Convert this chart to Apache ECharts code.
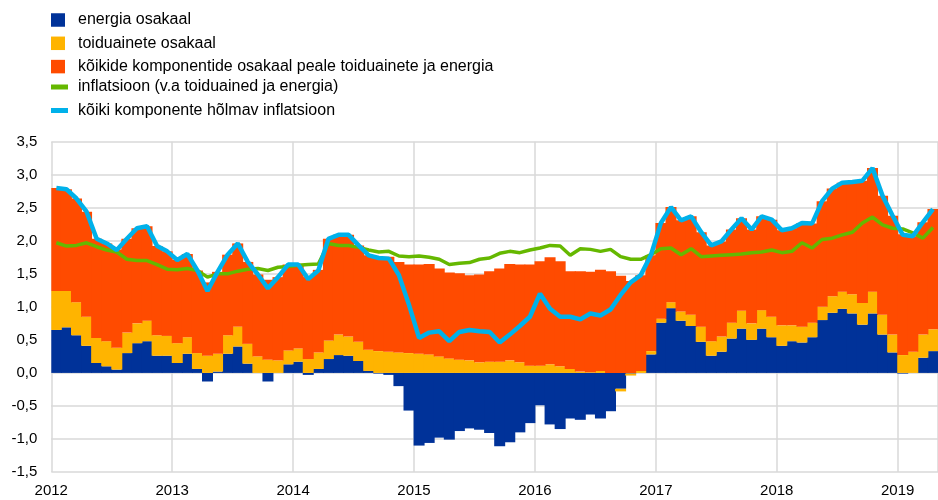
<!DOCTYPE html>
<html>
<head>
<meta charset="utf-8">
<script src="https://cdn.jsdelivr.net/npm/echarts@6/dist/echarts.min.js"></script>
<style>
  html, body { margin: 0; padding: 0; background: #fff; }
  #chart { width: 938px; height: 500px; }
</style>
</head>
<body>
<div id="chart"></div>
<script>
// kuised andmed, jaanuar 2012 - aprill 2019
const startYear = 2012;
const monthCount = 88;

const seriesNames = [
  'energia osakaal',
  'toiduainete osakaal',
  'kõikide komponentide osakaal peale toiduainete ja energia',
  'inflatsioon (v.a toiduained ja energia)',
  'kõiki komponente hõlmav inflatsioon'
];

const energy = [
  0.65, 0.69, 0.57, 0.41, 0.15, 0.10, 0.05, 0.30, 0.45, 0.48,
  0.26, 0.26, 0.15, 0.29, 0.06, -0.13, 0.02, 0.29, 0.40, 0.14,
  0.00, -0.13, 0.00, 0.13, 0.17, -0.03, 0.06, 0.21, 0.27, 0.26,
  0.18, 0.03, -0.01, -0.03, -0.20, -0.57, -1.10, -1.06, -0.98, -1.01,
  -0.88, -0.84, -0.86, -0.91, -1.11, -1.05, -0.90, -0.76, -0.49, -0.78,
  -0.85, -0.69, -0.71, -0.63, -0.69, -0.58, -0.24, -0.01, 0.00, 0.28,
  0.76, 0.98, 0.79, 0.71, 0.47, 0.26, 0.32, 0.52, 0.67, 0.50,
  0.67, 0.54, 0.41, 0.48, 0.46, 0.54, 0.80, 0.91, 0.97, 0.90,
  0.73, 0.90, 0.58, 0.31, -0.01, 0.00, 0.23, 0.33
];

const food = [
  0.59, 0.55, 0.50, 0.44, 0.38, 0.38, 0.33, 0.31, 0.30, 0.31,
  0.31, 0.30, 0.30, 0.25, 0.24, 0.26, 0.27, 0.28, 0.30, 0.30,
  0.25, 0.20, 0.19, 0.21, 0.20, 0.21, 0.25, 0.28, 0.31, 0.29,
  0.29, 0.32, 0.33, 0.32, 0.31, 0.30, 0.29, 0.28, 0.25, 0.22,
  0.20, 0.19, 0.16, 0.17, 0.17, 0.19, 0.16, 0.11, 0.11, 0.13,
  0.10, 0.06, 0.02, 0.01, 0.03, 0.00, -0.04, -0.03, 0.03, 0.05,
  0.06, 0.09, 0.14, 0.17, 0.23, 0.22, 0.23, 0.24, 0.27, 0.25,
  0.28, 0.31, 0.31, 0.24, 0.24, 0.22, 0.20, 0.25, 0.26, 0.29,
  0.33, 0.33, 0.30, 0.27, 0.27, 0.32, 0.35, 0.33
];

const other = [
  1.56, 1.54, 1.57, 1.59, 1.50, 1.48, 1.49, 1.42, 1.44, 1.43,
  1.35, 1.28, 1.26, 1.26, 1.25, 1.11, 1.24, 1.22, 1.26, 1.24,
  1.24, 1.21, 1.26, 1.30, 1.27, 1.24, 1.25, 1.54, 1.51, 1.54,
  1.46, 1.43, 1.42, 1.44, 1.37, 1.34, 1.35, 1.37, 1.33, 1.30,
  1.31, 1.29, 1.33, 1.37, 1.41, 1.46, 1.48, 1.53, 1.58, 1.62,
  1.59, 1.48, 1.52, 1.52, 1.53, 1.54, 1.47, 1.39, 1.45, 1.45,
  1.45, 1.44, 1.38, 1.49, 1.43, 1.45, 1.44, 1.41, 1.40, 1.42,
  1.42, 1.47, 1.44, 1.47, 1.57, 1.50, 1.60, 1.63, 1.65, 1.70,
  1.85, 1.87, 1.80, 1.80, 1.83, 1.75, 1.70, 1.82
];

const core = [
  1.97, 1.92, 1.93, 1.97, 1.91, 1.86, 1.83, 1.72, 1.70, 1.70,
  1.64, 1.57, 1.56, 1.58, 1.55, 1.45, 1.50, 1.50, 1.54, 1.57,
  1.58, 1.55, 1.60, 1.61, 1.63, 1.64, 1.65, 1.96, 1.93, 1.93,
  1.90, 1.86, 1.83, 1.84, 1.77, 1.76, 1.77, 1.75, 1.72, 1.64,
  1.66, 1.67, 1.72, 1.74, 1.81, 1.84, 1.82, 1.86, 1.89, 1.93,
  1.92, 1.78, 1.88, 1.87, 1.84, 1.87, 1.76, 1.72, 1.72, 1.79,
  1.88, 1.89, 1.79, 1.88, 1.76, 1.77, 1.78, 1.79, 1.80, 1.82,
  1.83, 1.86, 1.82, 1.84, 1.97, 1.89, 2.02, 2.04, 2.09, 2.13,
  2.27, 2.36, 2.24, 2.19, 2.18, 2.12, 2.04, 2.20
];

const headline = [
  2.80, 2.78, 2.64, 2.44, 2.03, 1.96, 1.86, 2.03, 2.19, 2.22,
  1.92, 1.84, 1.71, 1.80, 1.55, 1.24, 1.53, 1.79, 1.96, 1.68,
  1.49, 1.28, 1.45, 1.64, 1.64, 1.42, 1.55, 2.03, 2.09, 2.09,
  1.93, 1.78, 1.74, 1.73, 1.48, 1.03, 0.53, 0.61, 0.63, 0.48,
  0.62, 0.65, 0.63, 0.62, 0.46, 0.58, 0.71, 0.85, 1.20, 0.97,
  0.85, 0.85, 0.81, 0.90, 0.87, 0.96, 1.18, 1.37, 1.48, 1.78,
  2.27, 2.51, 2.31, 2.37, 2.13, 1.93, 1.99, 2.17, 2.34, 2.17,
  2.37, 2.32, 2.16, 2.19, 2.27, 2.26, 2.60, 2.79, 2.88, 2.89,
  2.91, 3.10, 2.68, 2.38, 2.09, 2.07, 2.28, 2.48
];

const colors = ['#003299', '#ffb400', '#ff4b00', '#65b800', '#00b1ea'];

const months = [];
for (let i = 0; i < monthCount; i++) {
  const y = startYear + Math.floor(i / 12);
  const m = (i % 12) + 1;
  months.push(y + '-' + (m < 10 ? '0' + m : m));
}

const font = 'Liberation Sans, Arial, sans-serif';

const chart = echarts.init(document.getElementById('chart'));

function barSeries(idx, data) {
  return {
    name: seriesNames[idx],
    type: 'bar',
    stack: 'osakaal',
    barWidth: 11,
    itemStyle: { color: colors[idx] },
    data: data
  };
}

function lineSeries(idx, data, width) {
  return {
    name: seriesNames[idx],
    type: 'line',
    symbol: 'none',
    lineStyle: { color: colors[idx], width: width },
    itemStyle: { color: colors[idx] },
    data: data
  };
}

chart.setOption({
  animation: false,
  textStyle: { fontFamily: font },
  legend: [
    {
      data: seriesNames.slice(0, 3),
      orient: 'vertical',
      left: 51,
      top: 12,
      padding: 0,
      itemWidth: 14,
      itemHeight: 13.5,
      itemGap: 7.3,
      icon: 'rect',
      textStyle: { fontSize: 16, color: '#000', fontFamily: font, padding: [0, 0, 0, 8] }
    },
    {
      data: seriesNames.slice(3),
      orient: 'vertical',
      left: 51,
      top: 79,
      padding: 0,
      itemWidth: 17,
      itemHeight: 5,
      itemGap: 7.5,
      icon: 'rect',
      textStyle: { fontSize: 16, color: '#000', fontFamily: font, padding: [0, 0, 0, 5] }
    }
  ],
  grid: { left: 51.3, right: -7.6, top: 141.7, bottom: 28 },
  xAxis: {
    type: 'category',
    data: months,
    boundaryGap: true,
    axisLine: { show: false, onZero: false },
    axisTick: { show: false },
    axisLabel: {
      interval: (i) => i % 12 === 0,
      formatter: (v) => v.slice(0, 4),
      fontSize: 15,
      color: '#000',
      margin: 11,
      padding: [0, 10.16, 0, 0]
    },
    splitLine: {
      show: true,
      interval: (i) => i % 12 === 0,
      lineStyle: { color: '#d9d9d9', width: 1.5 }
    }
  },
  yAxis: {
    type: 'value',
    min: -1.5,
    max: 3.5,
    interval: 0.5,
    axisLine: { show: false },
    axisTick: { show: false },
    axisLabel: {
      fontSize: 15,
      color: '#000',
      margin: 14,
      formatter: (v) => v.toFixed(1).replace('.', ',')
    },
    splitLine: { lineStyle: { color: '#d9d9d9', width: 1.5 } }
  },
  series: [
    barSeries(0, energy),
    barSeries(1, food),
    barSeries(2, other),
    lineSeries(3, core, 3.5),
    lineSeries(4, headline, 4.5)
  ]
});
</script>
</body>
</html>
